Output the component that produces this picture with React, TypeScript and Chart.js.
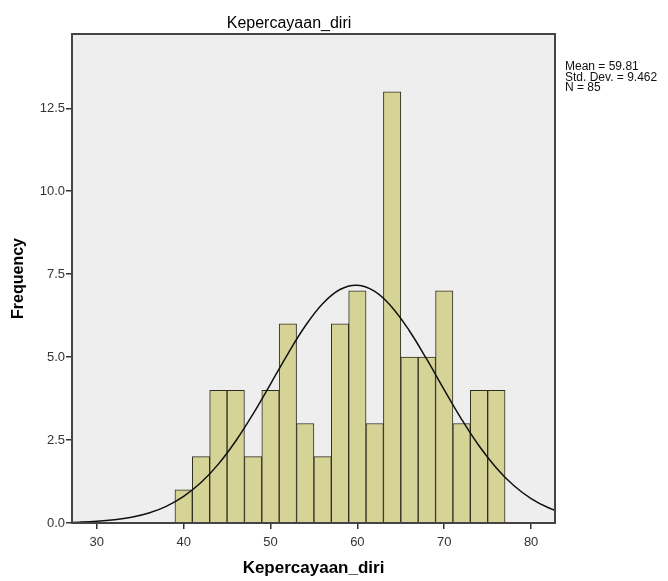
import React, { useEffect, useRef } from 'react';
import { Chart, registerables } from 'chart.js';

Chart.register(...registerables);

// ---- data ----
const binCenters = [40, 42, 44, 46, 48, 50, 52, 54, 56, 58, 60, 62, 64, 66, 68, 70, 72, 74, 76];
const frequencies = [1, 2, 4, 4, 2, 4, 6, 3, 2, 6, 7, 3, 13, 5, 5, 7, 3, 4, 4];
const xTickValues = [30, 40, 50, 60, 70, 80];
const yTickValues = [0, 2.5, 5, 7.5, 10, 12.5];
const curveX = [26, 28, 30, 32, 34, 36, 38, 40, 42, 44, 46, 48, 50, 52, 54, 56, 58, 60, 62, 64, 66, 68, 70, 72, 74, 76, 78, 80, 82, 84];
const curveY = [0.012, 0.025, 0.050, 0.096, 0.174, 0.302, 0.503, 0.801, 1.219, 1.775, 2.471, 3.289, 4.187, 5.099, 5.937, 6.610, 7.038, 7.167, 6.979, 6.499, 5.788, 4.929, 4.014, 3.126, 2.328, 1.659, 1.130, 0.736, 0.458, 0.273];
const titleText = 'Kepercayaan_diri';
const xAxisLabel = 'Kepercayaan_diri';
const yAxisLabel = 'Frequency';
const statsLines = ['Mean = 59.81', 'Std. Dev. = 9.462', 'N = 85'];

const FONT = '"Liberation Sans", Arial, Helvetica, sans-serif';

const decorPlugin = {
  id: 'decor',
  beforeDraw(chart: any) {
    const { ctx, chartArea: a, width, height } = chart;
    ctx.save();
    ctx.fillStyle = '#ffffff';
    ctx.fillRect(0, 0, width, height);
    ctx.fillStyle = '#eeeeee';
    ctx.fillRect(a.left, a.top, a.right - a.left, a.bottom - a.top);
    ctx.restore();
  },
  afterDraw(chart: any) {
    const { ctx, chartArea: a } = chart;
    ctx.save();
    ctx.strokeStyle = '#444444';
    ctx.lineWidth = 2;
    ctx.strokeRect(a.left, a.top, a.right - a.left, a.bottom - a.top);

    ctx.fillStyle = '#000000';
    ctx.font = `16px ${FONT}`;
    ctx.textAlign = 'center';
    ctx.textBaseline = 'alphabetic';
    ctx.fillText(titleText, 289, 28);

    ctx.font = `12px ${FONT}`;
    ctx.textAlign = 'left';
    ctx.fillStyle = '#111111';
    statsLines.forEach((s, i) => {
      ctx.fillText(s, a.right + 10, 70 + i * 10.6);
    });
    ctx.restore();
  },
};

export default function App() {
  const ref = useRef<HTMLCanvasElement | null>(null);

  useEffect(() => {
    if (!ref.current) return;
    const chart = new Chart(ref.current, {
      type: 'bar',
      data: {
        datasets: [
          {
            type: 'line',
            data: curveX.map((x, i) => ({ x, y: curveY[i] })),
            borderColor: '#111111',
            borderWidth: 1.5,
            pointRadius: 0,
            tension: 0.4,
            fill: false,
            order: 0,
          } as any,
          {
            type: 'bar',
            data: binCenters.map((x, i) => ({ x, y: frequencies[i] })),
            backgroundColor: '#d6d397',
            borderColor: '#2e2e20',
            borderWidth: 1,
            barPercentage: 1,
            categoryPercentage: 1,
            order: 1,
          } as any,
        ],
      },
      options: {
        responsive: false,
        devicePixelRatio: 1,
        animation: false,
        layout: { padding: { left: 9, right: 113, top: 34, bottom: 0 } },
        plugins: {
          legend: { display: false },
          tooltip: { enabled: false },
          title: { display: false },
        },
        scales: {
          x: {
            type: 'linear',
            min: 27.15,
            max: 82.75,
            offset: false,
            afterBuildTicks: (s: any) => {
              s.ticks = xTickValues.map((v) => ({ value: v }));
            },
            afterFit: (s: any) => {
              s.height = 58;
            },
            ticks: {
              font: { size: 13, family: FONT },
              color: '#333333',
              padding: 6,
              maxRotation: 0,
              autoSkip: false,
              callback: (v: any) => String(v),
            },
            grid: {
              display: true,
              offset: false,
              drawOnChartArea: false,
              drawTicks: true,
              tickLength: 6,
              color: '#333333',
              lineWidth: 1.5,
            },
            border: { display: false },
            title: {
              display: true,
              text: xAxisLabel,
              color: '#000000',
              font: { size: 17, weight: 'bold', family: FONT },
              padding: { top: 0, bottom: 2 },
            },
          },
          y: {
            type: 'linear',
            min: 0,
            max: 14.74,
            afterBuildTicks: (s: any) => {
              s.ticks = yTickValues.map((v) => ({ value: v }));
            },
            afterFit: (s: any) => {
              s.width = 63;
            },
            ticks: {
              font: { size: 13, family: FONT },
              color: '#333333',
              padding: 1,
              callback: (v: any) => Number(v).toFixed(1),
            },
            grid: {
              display: true,
              drawOnChartArea: false,
              drawTicks: true,
              tickLength: 6,
              color: '#333333',
              lineWidth: 1.5,
            },
            border: { display: false },
            title: {
              display: true,
              text: yAxisLabel,
              color: '#000000',
              font: { size: 16, weight: 'bold', family: FONT },
              padding: { top: 0, bottom: 0 },
            },
          },
        },
      } as any,
      plugins: [decorPlugin],
    });
    return () => chart.destroy();
  }, []);

  return (
    <div style={{ position: 'absolute', left: 0, top: 0, width: 668, height: 581, background: '#ffffff' }}>
      <canvas ref={ref} width={668} height={581} style={{ display: 'block', width: 668, height: 581 }} />
    </div>
  );
}
